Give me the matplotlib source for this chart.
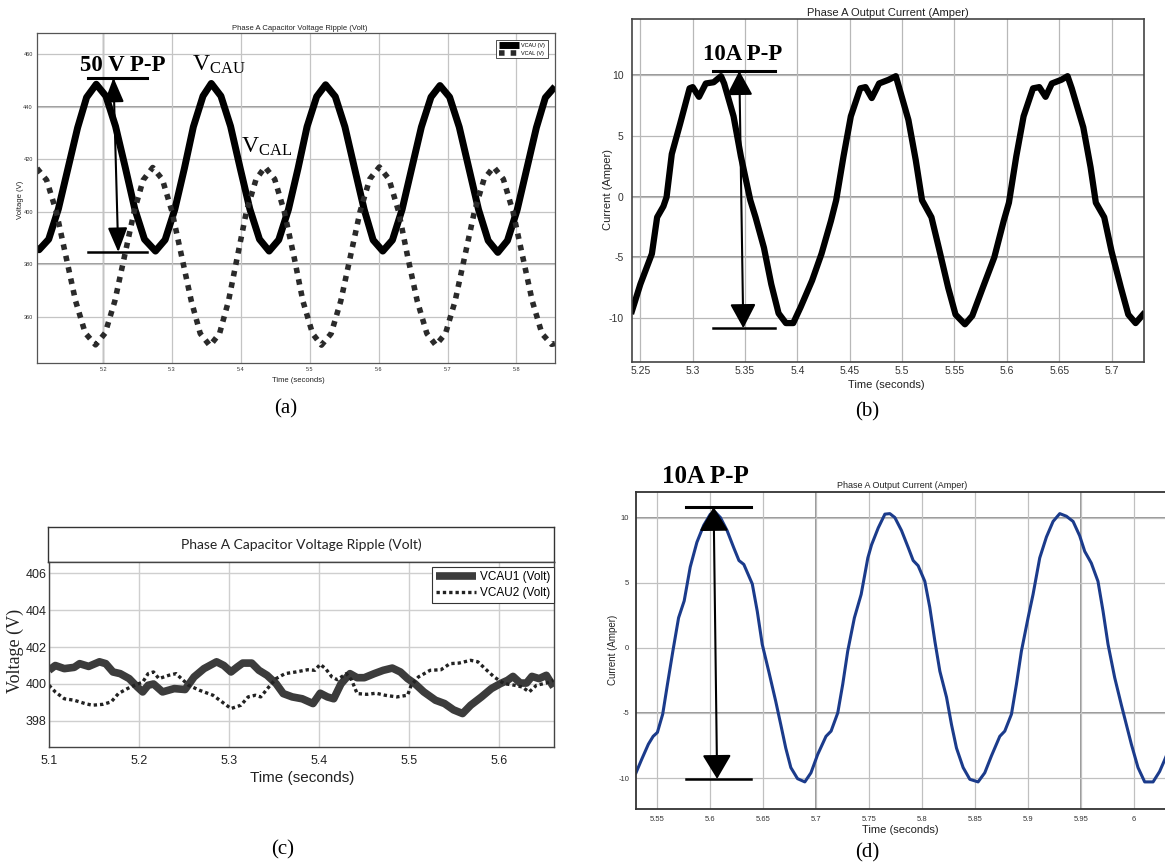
import numpy as np
import matplotlib
matplotlib.use("Agg")
import matplotlib.pyplot as plt

plt.rcParams['font.family'] = ['Liberation Sans', 'DejaVu Sans']
plt.rcParams['mathtext.fontset'] = 'custom'
plt.rcParams['mathtext.rm'] = 'Liberation Serif'
plt.rcParams['axes.unicode_minus'] = False

W, H = 1165, 868

# ---------------- (a) capacitor voltages, full ripple ----------------
t_vcau = [5.104, 5.107, 5.121, 5.135, 5.149, 5.163, 5.176, 5.190, 5.204, 5.218,
          5.232, 5.246, 5.260, 5.276, 5.290, 5.304, 5.318, 5.331, 5.345, 5.357,
          5.371, 5.385, 5.399, 5.413, 5.427, 5.441, 5.455, 5.469, 5.483, 5.496,
          5.510, 5.523, 5.537, 5.551, 5.565, 5.579, 5.592, 5.606, 5.620, 5.634,
          5.648, 5.662, 5.676, 5.689, 5.703, 5.717, 5.731, 5.745, 5.759, 5.773,
          5.787, 5.801, 5.815, 5.829, 5.842, 5.856]
v_vcau = [386.0, 385.5, 389.5, 401.0, 416.5, 432.0, 443.5, 448.5, 444.0, 432.5,
          417.0, 401.0, 389.5, 385.0, 389.3, 400.8, 416.5, 432.3, 444.0, 448.8,
          444.0, 432.5, 416.5, 401.0, 389.5, 385.0, 389.3, 400.8, 416.5, 432.3,
          443.8, 448.3, 443.8, 432.3, 416.5, 400.8, 389.2, 385.0, 389.2, 400.8,
          416.5, 432.2, 443.6, 448.0, 443.6, 432.2, 416.5, 400.8, 389.0, 384.5,
          389.0, 400.6, 416.3, 432.0, 443.4, 447.6]

t_vcal = [5.104, 5.118, 5.132, 5.146, 5.160, 5.174, 5.189, 5.203, 5.217, 5.231,
          5.245, 5.258, 5.272, 5.286, 5.300, 5.314, 5.328, 5.341, 5.355, 5.369,
          5.382, 5.395, 5.408, 5.422, 5.435, 5.449, 5.463, 5.477, 5.490, 5.504,
          5.517, 5.531, 5.545, 5.559, 5.573, 5.587, 5.601, 5.615, 5.629, 5.642,
          5.656, 5.670, 5.683, 5.697, 5.711, 5.725, 5.739, 5.753, 5.767, 5.781,
          5.795, 5.809, 5.823, 5.837, 5.851, 5.856]
v_vcal = [416.5, 412.0, 400.0, 383.0, 366.0, 353.8, 349.3, 353.8, 366.0, 383.0,
          400.0, 412.0, 416.8, 412.3, 400.0, 383.0, 366.0, 353.6, 349.0, 353.6,
          366.0, 383.0, 400.0, 412.3, 417.0, 412.4, 400.0, 383.0, 366.0, 353.6,
          349.2, 353.6, 366.0, 383.0, 400.0, 412.4, 417.0, 412.4, 400.0, 383.0,
          366.0, 353.6, 349.2, 353.6, 366.0, 383.0, 400.0, 412.4, 417.0, 412.4,
          400.0, 383.0, 366.0, 353.6, 349.5, 349.8]
a_xticks = [5.2, 5.3, 5.4, 5.5, 5.6, 5.7, 5.8]
a_yticks = [360, 380, 400, 420, 440, 460]

# ---------------- (b) output current ----------------
t_ib = [5.242, 5.250, 5.261, 5.266, 5.272, 5.275, 5.280, 5.288, 5.297, 5.300,
        5.306, 5.3125, 5.320, 5.327, 5.330, 5.339, 5.346, 5.355, 5.360, 5.368,
        5.375, 5.382, 5.389, 5.396, 5.403, 5.414, 5.423, 5.432, 5.437, 5.444,
        5.451, 5.460, 5.465, 5.471, 5.478, 5.487, 5.494, 5.497, 5.506, 5.513,
        5.519, 5.528, 5.535, 5.544, 5.551, 5.560, 5.567, 5.577, 5.588, 5.597,
        5.602, 5.609, 5.616, 5.625, 5.631, 5.637, 5.643, 5.652, 5.658, 5.662,
        5.673, 5.680, 5.685, 5.693, 5.700, 5.709, 5.716, 5.723, 5.730]
i_b = [-9.4, -7.2, -4.7, -1.7, -0.8, -0.05, 3.5, 6.0, 8.9, 9.0,
       8.2, 9.3, 9.4, 9.9, 9.3, 6.6, 3.3, -0.3, -1.7, -4.2,
       -7.2, -9.6, -10.4, -10.4, -9.1, -6.9, -4.7, -2.0, -0.3, 3.3,
       6.6, 8.9, 9.0, 8.1, 9.3, 9.6, 9.9, 9.0, 6.3, 3.0,
       -0.3, -1.7, -4.2, -7.5, -9.7, -10.5, -9.8, -7.5, -5.0, -2.0,
       -0.5, 3.3, 6.6, 8.9, 9.0, 8.2, 9.3, 9.6, 9.9, 8.9,
       5.7, 2.4, -0.5, -1.7, -4.5, -7.5, -9.7, -10.4, -9.7]
b_xticks = [5.25, 5.3, 5.35, 5.4, 5.45, 5.5, 5.55, 5.6, 5.65, 5.7]
b_xlabels = ['5.25', '5.3', '5.35', '5.4', '5.45', '5.5', '5.55', '5.6', '5.65', '5.7']
b_yticks = [-10, -5, 0, 5, 10]

# ---------------- (c) capacitor voltages, balanced ----------------
t_vcau1 = [5.100, 5.107, 5.117, 5.128, 5.134, 5.144, 5.156, 5.163, 5.171, 5.179,
           5.189, 5.198, 5.204, 5.210, 5.216, 5.226, 5.239, 5.251, 5.261, 5.272,
           5.286, 5.294, 5.302, 5.309, 5.315, 5.325, 5.333, 5.342, 5.352, 5.360,
           5.370, 5.381, 5.393, 5.401, 5.409, 5.416, 5.424, 5.434, 5.442, 5.450,
           5.461, 5.471, 5.481, 5.490, 5.498, 5.506, 5.516, 5.529, 5.539, 5.549,
           5.559, 5.568, 5.580, 5.591, 5.601, 5.609, 5.615, 5.623, 5.630, 5.636,
           5.644, 5.652, 5.660]
v_vcau1 = [400.74, 401.0, 400.83, 400.9, 401.1, 400.95, 401.2, 401.1, 400.65, 400.56,
           400.29, 399.84, 399.57, 399.93, 400.0, 399.57, 399.75, 399.7, 400.38, 400.83,
           401.2, 401.0, 400.65, 400.92, 401.13, 401.13, 400.74, 400.47, 400.02, 399.48,
           399.3, 399.2, 398.94, 399.5, 399.3, 399.2, 400.0, 400.56, 400.34, 400.34,
           400.56, 400.74, 400.86, 400.65, 400.29, 400.02, 399.57, 399.12, 398.94, 398.6,
           398.4, 398.85, 399.3, 399.75, 400.02, 400.2, 400.41, 400.05, 400.05, 400.41,
           400.29, 400.47, 399.84]

t_vcau2 = [5.100, 5.107, 5.117, 5.128, 5.140, 5.148, 5.160, 5.169, 5.177, 5.187,
           5.195, 5.204, 5.210, 5.216, 5.222, 5.233, 5.241, 5.247, 5.255, 5.267,
           5.282, 5.292, 5.302, 5.313, 5.321, 5.329, 5.335, 5.344, 5.352, 5.362,
           5.374, 5.387, 5.395, 5.401, 5.407, 5.414, 5.420, 5.430, 5.436, 5.442,
           5.453, 5.463, 5.473, 5.486, 5.498, 5.502, 5.510, 5.523, 5.535, 5.545,
           5.555, 5.568, 5.576, 5.584, 5.594, 5.605, 5.617, 5.625, 5.633, 5.641,
           5.652, 5.660]
v_vcau2 = [399.93, 399.57, 399.2, 399.12, 398.94, 398.85, 398.9, 399.03, 399.48, 399.75,
           399.93, 400.1, 400.56, 400.65, 400.29, 400.47, 400.56, 400.29, 399.93, 399.66,
           399.39, 399.03, 398.67, 398.85, 399.3, 399.39, 399.3, 399.84, 400.29, 400.56,
           400.65, 400.77, 400.74, 401.06, 400.83, 400.38, 400.23, 400.56, 400.2, 399.48,
           399.44, 399.5, 399.39, 399.3, 399.39, 399.93, 400.38, 400.74, 400.77, 401.1,
           401.13, 401.28, 401.2, 400.83, 400.38, 400.02, 399.93, 399.84, 399.57, 399.93,
           400.05, 400.2]
c_xticks = [5.1, 5.2, 5.3, 5.4, 5.5, 5.6]
c_yticks = [398, 400, 402, 404, 406]

# ---------------- (d) output current ----------------
t_id = [5.5298, 5.535, 5.5415, 5.546, 5.550, 5.555, 5.5595, 5.5646, 5.570, 5.5753,
        5.581, 5.5873, 5.5937, 5.600, 5.6047, 5.6095, 5.6158, 5.622, 5.627, 5.6316,
        5.6364, 5.6396, 5.6443, 5.649, 5.6554, 5.6617, 5.6665, 5.6712, 5.676, 5.6823,
        5.6892, 5.695, 5.7013, 5.7092, 5.714, 5.7203, 5.725, 5.7297, 5.736, 5.7424,
        5.7487, 5.7522, 5.7585, 5.7648, 5.7695, 5.7742, 5.7805, 5.7868, 5.7915, 5.7962,
        5.8025, 5.8072, 5.812, 5.8167, 5.823, 5.8277, 5.8324, 5.8387, 5.845, 5.8528,
        5.8591, 5.8654, 5.8733, 5.878, 5.8843, 5.889, 5.8937, 5.900, 5.9047, 5.911,
        5.9173, 5.9236, 5.9299, 5.9362, 5.9425, 5.9487, 5.9535, 5.9597, 5.966, 5.9708,
        5.9755, 5.9818, 5.9881, 5.9928, 5.9975, 6.0038, 6.0101, 6.018, 6.0242, 6.029,
        6.034]
i_d = [-9.6, -8.6, -7.4, -6.8, -6.5, -5.1, -2.8, -0.26, 2.3, 3.6,
       6.2, 8.1, 9.4, 10.26, 10.4, 10.0, 9.0, 7.7, 6.7, 6.4,
       5.5, 4.9, 2.8, 0.26, -1.9, -4.1, -5.9, -7.7, -9.2, -10.05,
       -10.3, -9.6, -8.2, -6.8, -6.4, -5.0, -2.8, -0.26, 2.3, 4.1,
       6.9, 7.9, 9.2, 10.26, 10.3, 10.0, 9.0, 7.7, 6.7, 6.3,
       5.1, 3.1, 0.5, -1.8, -3.8, -5.9, -7.7, -9.2, -10.1, -10.3,
       -9.6, -8.3, -6.8, -6.4, -5.1, -2.8, -0.26, 2.3, 4.1, 6.9,
       8.5, 9.7, 10.3, 10.1, 9.7, 8.6, 7.4, 6.5, 5.1, 2.8,
       0.26, -2.3, -4.4, -5.9, -7.4, -9.2, -10.3, -10.3, -9.5, -8.6,
       -7.6]
d_xticks = [5.55, 5.6, 5.65, 5.7, 5.75, 5.8, 5.85, 5.9, 5.95, 6.0]
d_xlabels = ['5.55', '5.6', '5.65', '5.7', '5.75', '5.8', '5.85', '5.9', '5.95', '6']
d_yticks = [-10, -5, 0, 5, 10]


fig = plt.figure(figsize=(W / 100, H / 100), dpi=100)


def px_axes(x0, y0, x1, y1):
    # pixel box (y from top) -> figure axes
    return fig.add_axes([x0 / W, 1 - y1 / H, (x1 - x0) / W, (y1 - y0) / H])


def ftext(x, y, s, **kw):
    kw.setdefault('ha', 'center')
    kw.setdefault('va', 'center')
    return fig.text(x / W, 1 - y / H, s, **kw)


def pp_marker(ax, x0, x1, ytop, ybot, xa_top, xa_bot, hw):
    # horizontal bars + double arrow used for the P-P marks
    ax.plot([x0, x1], [ytop, ytop], color='black', lw=2.2, clip_on=False, zorder=6)
    ax.plot([x0, x1], [ybot, ybot], color='black', lw=1.8, clip_on=False, zorder=6)
    ax.annotate('', xy=(xa_top, ytop), xytext=(xa_bot, ybot),
                arrowprops=dict(arrowstyle='<|-|>,head_length=0.75,head_width=%s' % hw,
                                color='black', lw=1.5, mutation_scale=20,
                                shrinkA=0, shrinkB=0),
                annotation_clip=False, zorder=7)


def matlab_grid(ax, color):
    ax.grid(True, color=color, lw=0.9)
    ax.set_axisbelow(True)
    ax.tick_params(length=0)


# ---------------- panel (a) ----------------
ax = px_axes(37, 33, 555, 363)
ax.plot(t_vcau, v_vcau, color='black', lw=5, solid_capstyle='butt',
        solid_joinstyle='round', label='VCAU (V)')
ax.plot(t_vcal, v_vcal, color='#2a2a2a', lw=4, linestyle=(0, (1, 1.1)),
        dash_capstyle='butt', label='VCAL (V)')
ax.set_xlim(5.104, 5.856)
ax.set_ylim(342.4, 468)
ax.set_xticks(a_xticks)
ax.set_yticks(a_yticks)
ax.tick_params(labelsize=4, labelcolor='#333333', pad=3)
matlab_grid(ax, '#c4c4c4')
for yv in [380, 440]:
    ax.axhline(yv, color='#808080', lw=1.1, zorder=0.5)
ax.axvline(5.2, color='#808080', lw=1.0, zorder=0.5)
for s in ax.spines.values():
    s.set_color('#555555')
    s.set_linewidth(0.9)
leg = ax.legend(loc='upper left', bbox_to_anchor=(496 / W, 1 - 40 / H),
                bbox_transform=fig.transFigure, fontsize=4, handlelength=3.6,
                borderpad=0.5, labelspacing=0.5, handletextpad=0.4,
                fancybox=False, framealpha=1, borderaxespad=0)
leg.get_frame().set_edgecolor('#333333')
leg.get_frame().set_linewidth(0.6)
pp_marker(ax, 5.178, 5.264, 451.0, 384.6, 5.215, 5.222, 0.3)
ax.text(5.1668, 453.5, '50 V P-P', family='Liberation Serif', weight='bold',
        fontsize=16.5, ha='left', va='baseline', zorder=8)
ax.text(5.329, 453.8, r'$\mathrm{V_{CAU}}$', fontsize=17, ha='left', va='baseline', zorder=8)
ax.text(5.400, 422.3, r'$\mathrm{V_{CAL}}$', fontsize=17, ha='left', va='baseline', zorder=8)
ftext(300, 28, 'Phase A Capacitor Voltage Ripple (Volt)', fontsize=5.5, color='#222222')
ftext(298, 380, 'Time (seconds)', fontsize=5.5, color='#222222')
ftext(20, 200, 'Voltage (V)', fontsize=5.5, rotation=90, color='#222222')

# ---------------- panel (b) ----------------
ax = px_axes(632, 19, 1144, 362)
ax.plot(t_ib, i_b, color='black', lw=4.5, solid_joinstyle='round')
ax.set_xlim(5.242, 5.731)
ax.set_ylim(-13.6, 14.6)
ax.set_xticks(b_xticks)
ax.set_xticklabels(b_xlabels)
ax.set_yticks(b_yticks)
ax.tick_params(labelsize=7.5, labelcolor='#333333')
matlab_grid(ax, '#b8b8b8')
ax.tick_params(axis='y', pad=6)
ax.tick_params(axis='x', pad=3)
for yv in [10, 0, -5]:
    ax.axhline(yv, color='#7a7a7a', lw=1.1, zorder=0.5)
for s in ax.spines.values():
    s.set_color('#444444')
    s.set_linewidth(1.2)
pp_marker(ax, 5.3194, 5.3786, 10.33, -10.82, 5.3445, 5.3483, 0.4)
ax.text(5.3099, 11.24, '10A P-P', family='Liberation Serif', weight='bold',
        fontsize=16.5, ha='left', va='baseline', zorder=8)
ftext(888, 13, 'Phase A Output Current (Amper)', fontsize=8, color='#222222')
ftext(886, 385, 'Time (seconds)', fontsize=8, color='#222222')
ftext(608, 190, 'Current (Amper)', fontsize=8, rotation=90, color='#222222')

# ---------------- panel (c) ----------------
tbox = px_axes(48, 527, 554, 562)
tbox.set_xticks([])
tbox.set_yticks([])
for s in tbox.spines.values():
    s.set_color('#333333')
    s.set_linewidth(1.0)
tbox.text(0.5, 0.5, 'Phase A Capacitor Voltage Ripple (Volt)', transform=tbox.transAxes,
          ha='center', va='center', fontsize=10, family='Lato', color='#222222')

ax = px_axes(49, 562, 554, 747)
ax.plot(t_vcau1, v_vcau1, color='#3c3c3c', lw=5.5, solid_joinstyle='round',
        solid_capstyle='butt', label='VCAU1 (Volt)')
ax.plot(t_vcau2, v_vcau2, color='#222222', lw=2.4, linestyle=(0, (1, 0.9)),
        dash_capstyle='butt', label='VCAU2 (Volt)')
ax.set_xlim(5.1, 5.6605)
ax.set_ylim(396.59, 406.6)
ax.set_xticks(c_xticks)
ax.set_yticks(c_yticks)
ax.grid(True, color='#cfcfcf', lw=1.0)
ax.set_axisbelow(True)
ax.tick_params(length=0, labelsize=9, labelcolor='#222222')
ax.tick_params(axis='y', pad=2)
ax.tick_params(axis='x', pad=6)
for s in ax.spines.values():
    s.set_color('#444444')
    s.set_linewidth(1.0)
leg = ax.legend(loc='upper left', bbox_to_anchor=(432 / W, 1 - 567 / H),
                bbox_transform=fig.transFigure, fontsize=8.5, handlelength=3.4,
                borderpad=0.35, labelspacing=0.3, handletextpad=0.3,
                fancybox=False, framealpha=1, borderaxespad=0)
leg.get_frame().set_edgecolor('#333333')
leg.get_frame().set_linewidth(0.8)
ftext(302, 778, 'Time (seconds)', fontsize=11, color='#222222')
ftext(15, 651, 'Voltage (V)', fontsize=13, rotation=90, family='Liberation Serif',
      color='#222222')

# ---------------- panel (d) ----------------
ax = px_axes(636, 492, 1170, 809)
ax.plot(t_id, i_d, color='#1b3b8b', lw=2.2, solid_joinstyle='round')
ax.set_xlim(5.5298, 6.034)
ax.set_ylim(-12.38, 11.96)
ax.set_xticks(d_xticks)
ax.set_xticklabels(d_xlabels)
ax.set_yticks(d_yticks)
ax.tick_params(labelsize=5.5, labelcolor='#333333')
matlab_grid(ax, '#c0c0c0')
ax.tick_params(axis='y', pad=5)
ax.tick_params(axis='x', pad=5)
for yv in [10, -5]:
    ax.axhline(yv, color='#7a7a7a', lw=1.1, zorder=0.5)
for xv in [5.7, 5.95]:
    ax.axvline(xv, color='#7a7a7a', lw=1.1, zorder=0.5)
for s in ax.spines.values():
    s.set_color('#333333')
    s.set_linewidth(1.3)
pp_marker(ax, 5.5772, 5.638, 10.81, -10.07, 5.6031, 5.6064, 0.45)
ax.text(5.5545, 12.63, '10A P-P', family='Liberation Serif', weight='bold',
        fontsize=18, ha='left', va='baseline', zorder=8)
ftext(902, 485, 'Phase A Output Current (Amper)', fontsize=6.5, color='#222222')
ftext(900, 830, 'Time (seconds)', fontsize=8, color='#222222')
ftext(613, 650, 'Current (Amper)', fontsize=7, rotation=90, color='#222222')

# ---------------- captions ----------------
for cx, cy, cap in [(286, 409, '(a)'), (867, 412, '(b)'), (283, 850, '(c)'), (867, 853, '(d)')]:
    ftext(cx, cy, cap, fontsize=15, family='Liberation Serif')

fig.savefig('out.png', dpi=100)
